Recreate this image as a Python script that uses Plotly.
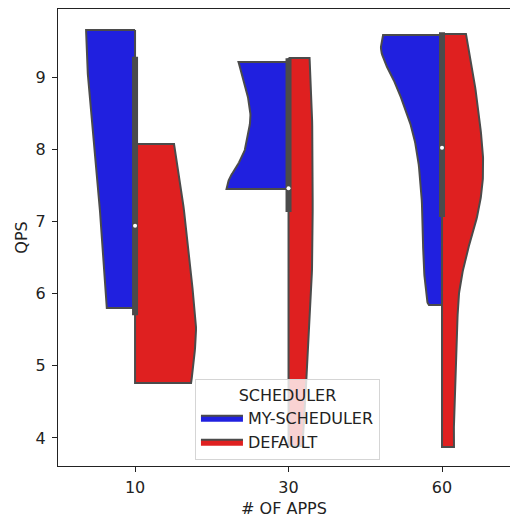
import numpy as np
import plotly.graph_objects as go

# ---------------- data ----------------
categories = ["10", "30", "60"]
hue_names = ["MY-SCHEDULER", "DEFAULT"]

# density profiles (value, half-width in category units), MY-SCHEDULER (left halves)
b10_y = [9.651, 9.139, 8.681, 8.224, 7.753, 7.296, 6.839, 6.465, 6.147, 5.801]
b10_w = [0.319, 0.311, 0.291, 0.270, 0.251, 0.234, 0.218, 0.205, 0.195, 0.184]
b30_y = [9.208, 8.917, 8.681, 8.446, 8.224, 7.989, 7.753, 7.601, 7.449]
b30_w = [0.326, 0.287, 0.261, 0.248, 0.262, 0.285, 0.339, 0.384, 0.404]
b60_y = [9.582, 9.374, 9.139, 8.917, 8.681, 8.446, 8.224, 7.989, 7.753, 7.296,
         6.839, 6.465, 6.188, 5.911, 5.842]
b60_w = [0.384, 0.397, 0.358, 0.306, 0.261, 0.221, 0.189, 0.166, 0.150, 0.132,
         0.125, 0.121, 0.112, 0.098, 0.085]

# DEFAULT (right halves)
r10_y = [8.072, 7.296, 6.465, 5.994, 5.537, 5.080, 4.762]
r10_w = [0.254, 0.310, 0.355, 0.378, 0.397, 0.384, 0.365]
r30_y = [9.263, 8.681, 7.989, 6.604, 5.911, 5.219, 4.803, 4.400, 3.890]
r30_w = [0.137, 0.150, 0.156, 0.156, 0.143, 0.130, 0.117, 0.104, 0.091]
r60_y = [9.596, 9.139, 8.681, 8.224, 7.989, 7.753, 7.532, 7.296, 7.061, 6.839,
         6.604, 6.368, 6.147, 5.911, 5.454, 4.762, 4.291, 3.875]
r60_w = [0.156, 0.195, 0.228, 0.254, 0.265, 0.268, 0.264, 0.250, 0.228, 0.199,
         0.168, 0.141, 0.121, 0.107, 0.097, 0.085, 0.078, 0.078]

# inner box (combined data): quartiles and medians
box_q1 = [5.74, 7.17, 7.10]
box_q3 = [9.24, 9.22, 9.58]
box_median = [6.94, 7.46, 8.02]

# ---------------- style ----------------
BLUE = "#2020df"
RED = "#df2020"
GRAY = "#4b4b4b"
FONT = "DejaVu Sans"
TXT = "#222222"
FS = 16

blue_profiles = [(b10_y, b10_w), (b30_y, b30_w), (b60_y, b60_w)]
red_profiles = [(r10_y, r10_w), (r30_y, r30_w), (r60_y, r60_w)]


def catmull_rom(ys, ws, steps=10):
    p = np.column_stack([ws, ys]).astype(float)
    ext = np.vstack([p[0], p, p[-1]])
    out = [p[0]]
    for i in range(1, len(ext) - 2):
        p0, p1, p2, p3 = ext[i - 1], ext[i], ext[i + 1], ext[i + 2]
        for t in np.linspace(0, 1, steps + 1)[1:]:
            t2, t3 = t * t, t * t * t
            pt = 0.5 * ((2 * p1) + (-p0 + p2) * t +
                        (2 * p0 - 5 * p1 + 4 * p2 - p3) * t2 +
                        (-p0 + 3 * p1 - 3 * p2 + p3) * t3)
            out.append(pt)
    out = np.array(out)
    return out[:, 1], out[:, 0]


def half_violin(center, ys, ws, side):
    sy, sw = catmull_rom(ys, ws)
    xs = [center] + list(center + side * sw) + [center, center]
    yy = [ys[0]] + list(sy) + [ys[-1], ys[0]]
    return xs, yy


fig = go.Figure()
for hue_i, (profiles, color, side) in enumerate(
        [(blue_profiles, BLUE, -1), (red_profiles, RED, 1)]):
    for ci, (ys, ws) in enumerate(profiles):
        xs, yy = half_violin(ci, ys, ws, side)
        fig.add_trace(go.Scatter(
            x=xs, y=yy, mode="lines", fill="toself", fillcolor=color,
            line=dict(color=GRAY, width=2),
            name=hue_names[hue_i], legendgroup=hue_names[hue_i],
            showlegend=(ci == 0), hoverinfo="skip"))

CAP = 0.04  # projecting cap of the thick box line
for ci in range(len(categories)):
    fig.add_trace(go.Scatter(
        x=[ci, ci], y=[box_q1[ci] - CAP, box_q3[ci] + CAP], mode="lines",
        line=dict(color=GRAY, width=6), showlegend=False, hoverinfo="skip"))
fig.add_trace(go.Scatter(
    x=list(range(len(categories))), y=box_median, mode="markers",
    marker=dict(color="white", size=4, line=dict(width=0)),
    showlegend=False, hoverinfo="skip"))

fig.update_layout(
    width=510, height=521,
    margin=dict(l=58, r=0, t=9, b=55),
    paper_bgcolor="white", plot_bgcolor="white",
    font=dict(family=FONT, size=FS, color=TXT),
    showlegend=True,
    legend=dict(
        x=0.303, y=0.19, xanchor="left", yanchor="top",
        bgcolor="rgba(255,255,255,0.8)", bordercolor="#d5d5d5", borderwidth=1,
        title=dict(text="SCHEDULER", side="top center", font=dict(size=FS)),
        font=dict(size=FS), traceorder="normal", itemwidth=42,
        tracegroupgap=0),
)
fig.update_xaxes(
    range=[-0.502, 2.443], tickmode="array", tickvals=[0, 1, 2],
    ticktext=categories, ticks="outside", ticklen=5, tickwidth=1.3,
    tickcolor=TXT, showline=True, linecolor=TXT, linewidth=1.3, mirror=True,
    showgrid=False, zeroline=False, ticklabelstandoff=2,
    tickfont=dict(size=FS),
    title=dict(text="# OF APPS", standoff=6, font=dict(size=FS)))
fig.update_yaxes(
    range=[3.612, 9.942], tickmode="array", tickvals=[4, 5, 6, 7, 8, 9],
    ticks="outside", ticklen=5, tickwidth=1.3, tickcolor=TXT,
    showline=True, linecolor=TXT, linewidth=1.3, mirror=False,
    showgrid=False, zeroline=False, ticklabelstandoff=3,
    tickfont=dict(size=FS),
    title=dict(text="QPS", standoff=3, font=dict(size=FS)))

fig.write_html("out.html")
